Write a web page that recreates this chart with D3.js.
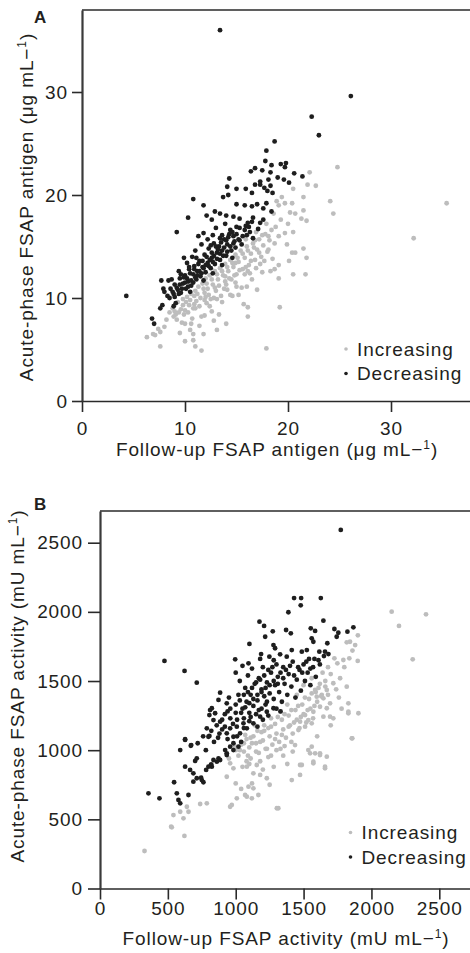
<!DOCTYPE html>
<html>
<head>
<meta charset="utf-8">
<style>
body { margin: 0; background: #fff; }
.chart text { font-family: "Liberation Sans", Arial, sans-serif; fill: #231f20; letter-spacing: 0.9px; }
</style>
</head>
<body>
<svg class="chart" width="470" height="953"></svg>
<script src="https://cdn.jsdelivr.net/npm/d3@7/dist/d3.min.js"></script>
<script>
var width = 470;

// panel A: follow-up vs acute-phase FSAP antigen (ug/mL)
var antigenTicks = [0, 10, 20, 30];
var antigenDecreasing = [
	[13.4,36.0],[26.1,29.6],[22.3,27.6],[23.0,25.8],[18.7,25.2],[17.9,24.3],[17.8,23.3],[18.4,22.9],[19.3,23.0],[19.8,23.1],
	[19.7,22.7],[16.8,22.6],[16.4,22.3],[17.5,22.4],[18.3,22.2],[20.6,22.1],[21.4,21.8],[14.3,21.6],[19.0,21.7],[19.6,21.5],
	[20.1,21.2],[18.1,21.5],[17.3,21.3],[16.8,21.0],[17.3,21.0],[17.7,20.7],[18.3,20.9],[15.0,20.6],[15.9,20.6],[14.1,20.8],
	[16.5,20.2],[18.0,20.4],[18.5,20.2],[10.8,19.6],[13.7,19.8],[14.2,20.0],[11.8,19.0],[10.3,17.8],[9.2,16.4],[4.3,10.2],
	[6.8,8.0],[7.0,7.5],[7.7,11.7],[8.4,11.7],[7.9,10.9],[8.0,10.6],[7.6,9.0],[7.8,9.3],[8.9,9.2],[9.1,9.5],
	[12.9,18.4],[13.4,18.2],[14.0,18.0],[14.7,17.9],[15.3,17.7],[12.1,18.0],[12.6,17.6],[15.0,19.1],[15.8,19.0],[16.5,18.9],
	[17.0,19.1],[17.6,18.7],[17.9,19.2],[18.4,18.4],[16.6,17.8],[17.6,17.6],[17.3,17.3],[16.1,17.3],[16.3,16.4],[15.0,16.9],
	[14.4,16.6],[11.8,16.3],[12.7,16.1],[13.4,15.8],[14.7,16.0],[15.3,15.6],[16.0,16.1],
	[8.3,10.2],[8.6,10.9],[8.9,10.4],[9.0,11.3],[9.3,10.8],[9.5,11.9],[9.6,10.5],[9.8,11.4],[10.0,12.2],[10.1,10.9],
	[10.3,11.6],[10.4,12.8],[10.6,11.2],[10.8,12.3],[10.9,13.1],[11.1,11.8],[11.2,12.6],[11.4,13.6],[11.5,12.1],[11.7,13.0],
	[11.9,14.2],[12.0,12.5],[12.2,13.4],[12.3,14.8],[12.5,12.9],[12.6,13.9],[12.8,15.3],[12.9,13.3],[13.1,14.4],[13.3,15.0],
	[13.4,13.7],[13.6,14.6],[13.8,15.7],[14.0,14.1],[14.1,15.2],[14.3,16.2],[14.5,14.6],[14.7,15.3],[14.9,14.9],[15.2,15.7],
	[15.5,15.2],[15.8,16.6],[9.4,12.6],[10.2,13.4],[10.7,14.0],[11.0,14.6],[11.6,15.2],[12.2,15.7],[8.7,11.8],[9.9,13.9],
	[11.3,16.0],[13.0,16.8],[13.9,17.2],[10.5,10.6],[11.8,11.7],[12.7,12.4],[13.6,13.2],[14.6,13.9],[16.6,15.8],[17.1,16.7],
	[8.5,10.0],[8.8,10.6],[9.0,10.1],[9.2,11.0],[9.4,10.4],[9.5,11.3],[9.7,10.9],[9.9,12.0],[10.0,11.5],[10.2,11.9],
	[10.3,11.1],[10.5,12.4],[10.6,11.7],[10.8,11.5],[10.9,12.8],[11.0,12.0],[11.2,12.2],[11.3,13.3],[11.4,12.6],[11.6,12.4],
	[11.7,13.6],[11.8,12.9],[12.0,13.2],[12.1,14.0],[12.3,13.1],[12.4,13.7],[12.6,14.4],[12.7,13.5],[12.8,14.1],[13.0,15.0],
	[13.1,13.8],[13.2,14.7],[13.4,14.3],[13.5,15.4],[13.7,14.1],[13.8,14.9],[14.0,15.6],[14.1,14.5],[14.2,15.9],[14.4,15.0],
	[14.6,16.4],[14.8,15.5],[15.0,16.2],[15.3,16.8],[15.6,16.0],[15.9,17.0],[16.2,16.9],[16.5,17.4],[9.6,12.3],[10.4,13.0],
	[11.1,13.9],[12.5,15.1],[13.6,16.1]
];
var antigenIncreasing = [
	[24.8,22.7],[22.1,22.2],[22.7,20.9],[21.9,21.0],[24.1,19.4],[24.4,18.2],[21.5,19.8],[20.5,20.6],[21.5,18.5],[21.8,17.5],
	[21.3,17.7],[20.4,19.2],[19.7,19.2],[20.7,18.2],[20.2,18.3],[20.0,17.2],[20.5,16.4],[19.7,16.3],[19.1,16.0],[21.5,14.8],
	[21.8,13.9],[20.4,14.4],[20.7,14.4],[18.7,15.3],[18.1,14.7],[19.1,13.2],[18.3,12.6],[18.7,12.8],[20.5,12.3],[21.7,12.3],
	[19.1,11.9],[16.1,12.6],[17.0,10.8],[16.0,11.1],[16.1,9.1],[19.2,9.1],[16.1,8.2],[19.4,19.8],[19.1,19.0],[18.6,18.2],
	[18.9,19.4],[35.4,19.2],[32.2,15.8],[17.9,5.1],[6.3,6.2],[6.9,6.5],[7.6,6.7],[7.6,5.3],[10.0,5.8],[10.8,5.9],
	[11.0,5.3],[11.6,4.9],[9.5,6.6],[10.8,6.5],[13.1,6.9],[14.0,7.5],[11.8,6.5],[14.4,10.3],[15.0,11.1],[8.9,8.2],
	[8.2,7.9],[10.0,7.5],[10.6,7.5],[11.9,8.3],[12.4,9.2],
	[8.5,8.6],[8.8,9.0],[9.1,8.4],[9.3,9.6],[9.6,8.9],[9.8,9.9],[10.0,8.8],[10.2,10.1],[10.4,9.3],[10.6,10.4],
	[10.8,9.0],[11.0,10.7],[11.1,9.7],[11.3,11.1],[11.5,10.0],[11.7,11.4],[11.9,10.5],[12.0,11.9],[12.2,10.9],[12.4,12.2],
	[12.5,9.9],[12.7,11.3],[12.9,12.6],[13.0,10.7],[13.2,11.8],[13.4,12.9],[13.5,10.2],[13.7,12.2],[13.9,13.3],[14.0,11.3],
	[14.2,12.6],[14.4,13.7],[14.5,11.8],[14.7,13.0],[14.9,14.2],[15.0,12.3],[15.2,13.5],[15.4,14.6],[15.6,12.8],[15.8,13.9],
	[16.0,15.0],[16.2,13.2],[16.4,14.3],[16.6,15.3],[16.8,13.7],[17.0,14.7],[17.2,15.7],[17.4,14.0],[17.6,15.1],[17.8,16.2],
	[18.0,14.5],[18.2,15.6],[18.4,16.6],[17.5,12.5],[16.5,11.8],[15.5,11.0],[14.6,10.2],[13.6,9.6],[12.6,8.7],[11.6,8.2],
	[10.7,8.0],[9.7,7.6],[12.1,9.5],[13.1,9.9],[14.1,10.8],[15.2,10.3],[16.3,12.4],[17.3,13.3],[18.5,13.8],[17.9,17.2],
	[16.9,16.4],[15.9,15.7],[14.9,13.4],[13.9,12.1],[12.9,11.0],[11.9,9.8],[10.9,9.4],[9.9,8.4],[9.2,7.9],[8.0,7.2],
	[7.4,7.0],[7.1,6.4],[11.4,7.3],[12.8,7.8],[15.7,9.4],[18.8,16.9],[19.3,17.6],[19.9,15.2],[20.1,13.6],[10.5,6.9],[13.3,8.4],
	[9.0,8.7],[9.4,8.6],[9.8,9.3],[10.1,9.6],[10.3,8.6],[10.5,9.8],[10.9,10.2],[11.2,10.4],[11.4,9.2],[11.8,10.9],
	[12.1,11.4],[12.3,10.3],[12.6,11.8],[12.8,10.0],[13.1,12.3],[13.3,11.2],[13.6,12.6],[13.8,10.9],[14.1,13.0],[14.3,11.9],
	[14.6,13.4],[14.8,12.2],[15.1,13.9],[15.3,12.7],[15.6,14.3],[15.9,13.0],[16.1,14.6],[16.4,13.6],[16.7,14.9],[16.9,12.9],
	[17.2,14.4],[17.5,16.1],[17.7,13.6],[18.1,16.0],[12.0,10.1],[11.0,9.0],[13.9,11.6],[14.9,11.5],[15.8,12.3],[16.8,15.6]
];

// panel B: follow-up vs acute-phase FSAP activity (mU/mL)
var activityTicks = [0, 500, 1000, 1500, 2000, 2500];
var activityDecreasing = [
	[1774,2592],[1430,2100],[1482,2100],[1627,2100],[1479,2047],[1388,1997],[1175,1929],[1209,1898],[1646,1936],[1371,1869],
	[1406,1845],[1217,1820],[1273,1859],[1553,1881],[1585,1862],[1727,1876],[1756,1849],[1823,1857],[1867,1888],[1744,1820],
	[1101,1768],[1278,1760],[1290,1737],[1560,1809],[1572,1784],[1675,1773],[1616,1712],[1658,1712],[1683,1695],[1413,1724],
	[1487,1712],[1524,1724],[1187,1695],[1248,1676],[1327,1693],[1376,1676],[996,1657],[1094,1628],[475,1645],[623,1573],
	[713,1488],[885,1416],[873,1363],[934,1339],[811,1290],[806,1254],[836,1218],[885,1206],[787,1158],[806,1103],
	[627,1074],[669,1032],[591,1001],[627,881],[664,857],[688,833],[546,768],[688,772],[713,797],[750,784],
	[782,857],[824,881],[836,929],[357,688],[438,652],[566,688],[578,640],[591,616],[652,676],[885,929],
	[934,977],[983,1001],[1020,1025],[983,1097],[1032,1122],[1082,1158],[1130,1194],[1180,1242],[1229,1278],[1278,1303],
	[627,1079],[672,1037],[701,922],[713,941],[745,801],[762,768],[799,881],[819,898],[861,917],[873,941],
	[799,1097],[922,1001],[934,965],[959,1025],[983,1050],[824,1303],[848,1267],[934,1122],[959,1158],[1008,1170],[1057,1194],
	[1000,1560],[1030,1500],[1050,1610],[1070,1450],[1090,1540],[1110,1400],[1120,1590],[1140,1480],[1160,1360],[1170,1520],
	[1190,1440],[1200,1600],[1220,1330],[1230,1490],[1250,1410],[1260,1560],[1280,1370],[1290,1470],[1310,1530],[1320,1420],
	[1340,1350],[1350,1600],[1360,1480],[1380,1400],[1390,1550],[1410,1460],[1420,1640],[1440,1380],[1450,1510],[1470,1580],
	[1480,1430],[1500,1620],[1510,1500],[1530,1560],[1550,1470],[1570,1600],[1590,1530],[1610,1650],[1050,1300],[1080,1350],
	[1100,1270],[1130,1320],[1150,1260],[1190,1300],[1210,1390],[1240,1250],[1000,1270],[960,1230],[920,1260],[1020,1400],
	[950,1380],[1060,1230],[1300,1300],[1330,1280],[1100,1210],[1160,1170],[1200,1220],[900,1150],[940,1080],[1010,1100],
	[870,1090],[1040,1060],[1280,1650],[1180,1660],[1540,1660],
	[720,1050],[760,1100],[780,1000],[820,1140],[840,1060],[860,1180],[880,1120],[900,1220],[920,1170],[940,1280],
	[960,1300],[980,1190],[1000,1330],[1010,1220],[1030,1360],[1040,1270],[1060,1400],[1070,1310],[1090,1420],[1100,1340],
	[1120,1450],[1130,1370],[1150,1490],[1160,1400],[1180,1510],[1190,1420],[1210,1540],[1220,1450],[1240,1580],[1250,1470],
	[1270,1600],[1280,1500],[1300,1620],[1310,1480],[1330,1560],[1350,1520],[1370,1580],[1400,1610],[1430,1540],[1460,1600],
	[1490,1560],[1520,1640],[1550,1590],[1580,1660],[1620,1620],[1650,1680],[1060,1160],[1110,1240],[1170,1290],[1230,1350]
];
var activityIncreasing = [
	[2149,2001],[2402,1982],[2203,1898],[2304,1657],[1842,1784],[1818,1780],[1727,1664],[1749,1628],[1837,1664],[1899,1645],
	[1793,1652],[1818,1459],[1830,1339],[1830,1267],[1855,1086],[1695,1242],[1719,1230],[1769,1520],[1719,1484],[1671,1435],
	[1634,1399],[1585,1435],[1597,1387],[1646,1375],[1621,1314],[1695,1339],[1671,1303],[1572,1278],[1511,1254],[1535,1218],
	[1474,1206],[1560,1194],[1646,1242],[1511,1170],[1462,1146],[1437,1037],[1560,1025],[1548,977],[1585,977],[1621,977],
	[1671,953],[1474,893],[1572,905],[1658,881],[1314,580],[1082,664],[1119,652],[959,591],[1008,652],[787,616],
	[738,611],[640,591],[591,555],[541,531],[524,447],[1413,784],[1474,821],[1487,893],[1572,917],[1621,965],
	[1658,869],[1535,1001],[1859,1086],[1830,1278],[1904,1267],[1229,797],[1180,821],[1130,833],[1155,893],[1082,881],
	[983,869],[959,905],[934,808],[328,271],[529,442],[622,380],[615,507],[652,555],[971,604],[1069,676],
	[1094,736],[1130,724],[1167,676],[1303,580],
	[1000,1000],[1020,960],[1040,1040],[1060,990],[1080,1080],[1100,1020],[1110,940],[1130,1100],[1150,1050],[1170,980],
	[1190,1130],[1200,1070],[1220,1010],[1240,1160],[1250,1100],[1270,1040],[1290,1190],[1300,1120],[1320,1060],[1340,1220],
	[1350,1150],[1370,1090],[1390,1250],[1400,1180],[1420,1120],[1440,1290],[1450,1220],[1470,1160],[1490,1330],[1500,1260],
	[1520,1200],[1540,1370],[1550,1300],[1570,1230],[1590,1420],[1600,1350],[1620,1480],[1640,1560],[1660,1500],[1680,1600],
	[1700,1550],[1560,1520],[1500,1470],[1450,1400],[1380,1330],[1330,1280],[1260,1230],[1210,1180],[1160,1140],[1110,1090],
	[1060,1050],[1180,920],[1240,950],[1300,1000],[1360,1030],[1410,1060],[1280,880],[1350,960],[1200,860],[1100,900],
	[1050,880],[1000,760],[1040,720],[1120,760],[1250,750],[1380,900],[1420,990],[1600,1100],[1700,1180],[1760,1380],
	[1780,1300],[1740,1440],[1800,1600],[1860,1720],[1900,1830],[1880,1760],
	[950,940],[990,1030],[1030,1000],[1070,1110],[1090,960],[1120,1050],[1140,1180],[1180,1060],[1210,1140],[1230,1010],
	[1260,1170],[1290,1080],[1310,1240],[1340,1110],[1360,1260],[1390,1170],[1410,1290],[1430,1200],[1460,1320],[1480,1240],
	[1510,1380],[1530,1290],[1560,1410],[1580,1320],[1610,1450],[1630,1390],[1660,1460],[1680,1400],[1260,960],[1330,1010],
	[1150,990],[1080,920]
];

var groupLabels = ["Increasing", "Decreasing"];
var groupColors = ["#bdbdbd", "#1e1e1e"];

var chart = d3.select(".chart");

drawPanel({
	letter: "A", letterY: 23,
	inc: antigenIncreasing, dec: antigenDecreasing, ticks: antigenTicks, refVal: 30,
	left: 82, refX: 391, bottom: 401, refY: 92, top: 10,
	xTick: 11, xPad: 10, yTick: 10, yPad: 4,
	xTitle: "Follow-up FSAP antigen (μg mL", yTitle: "Acute-phase FSAP antigen (μg mL",
	xTitleY: 456, yTitleX: 33, yTitleY: 207,
	legendX: 346, legendY: 349
});

drawPanel({
	letter: "B", letterY: 510,
	inc: activityIncreasing, dec: activityDecreasing, ticks: activityTicks, refVal: 2500,
	left: 100, refX: 439.3, bottom: 888.5, refY: 542.7, top: 511,
	xTick: 11, xPad: 2, yTick: 12, yPad: 5,
	xTitle: "Follow-up FSAP activity (mU mL", yTitle: "Acute-phase FSAP activity (mU mL",
	xTitleY: 945, yTitleX: 24, yTitleY: 686,
	legendX: 350.5, legendY: 832.5
});

function drawPanel(p) {
	var x = d3.scaleLinear().domain([0, p.refVal]).range([p.left, p.refX]);
	x.domain([0, x.invert(width)]).range([p.left, width]);
	var y = d3.scaleLinear().domain([0, p.refVal]).range([p.bottom, p.refY]);
	y.domain([0, y.invert(p.top)]).range([p.bottom, p.top]);

	var g = chart.append("g");

	// grey (increasing) first, black (decreasing) drawn over it
	[p.inc, p.dec].forEach(function(set, i) {
		g.append("g").selectAll("circle")
			.data(set)
		  .enter().append("circle")
			.attr("cx", function(d) { return x(d[0]); })
			.attr("cy", function(d) { return y(d[1]); })
			.attr("r", 2.4)
			.attr("fill", groupColors[i]);
	});

	var xAxis = g.append("g")
		.attr("transform", "translate(0," + p.bottom + ")")
		.call(d3.axisBottom(x).tickValues(p.ticks).tickFormat(d3.format("d"))
			.tickSize(p.xTick).tickSizeOuter(0).tickPadding(p.xPad));
	var yAxis = g.append("g")
		.attr("transform", "translate(" + p.left + ",0)")
		.call(d3.axisLeft(y).tickValues(p.ticks).tickFormat(d3.format("d"))
			.tickSize(p.yTick).tickSizeOuter(0).tickPadding(p.yPad));

	[xAxis, yAxis].forEach(function(a) {
		a.attr("font-size", 19).attr("font-family", null);
		a.selectAll("line").attr("stroke", "#2a2a2a").attr("stroke-width", 1.6);
		a.select(".domain").attr("stroke", "#2a2a2a").attr("stroke-width", 1.6);
	});
	yAxis.select(".domain").attr("stroke", "#3a3a3a").attr("stroke-width", 2.2);

	// top frame line
	g.append("line")
		.attr("x1", p.left).attr("x2", width)
		.attr("y1", p.top).attr("y2", p.top)
		.attr("stroke", "#2a2a2a")
		.attr("stroke-width", 1.5);

	g.append("text")
		.attr("x", 34)
		.attr("y", p.letterY)
		.attr("font-size", 17)
		.attr("font-weight", "bold")
		.style("letter-spacing", "0px")
		.text(p.letter);

	unitTitle(g.append("text")
		.attr("x", (p.left + width) / 2 + 1)
		.attr("y", p.xTitleY), p.xTitle);

	unitTitle(g.append("text")
		.attr("transform", "translate(" + p.yTitleX + "," + p.yTitleY + ") rotate(-90)"), p.yTitle);

	var legend = g.selectAll(".legend")
		.data(groupLabels)
	  .enter().append("g")
		.attr("transform", function(d, i) { return "translate(" + p.legendX + "," + (p.legendY + i * 24.5) + ")"; });

	legend.append("circle")
		.attr("r", 1.8)
		.attr("fill", function(d, i) { return groupColors[i]; });

	legend.append("text")
		.attr("x", 11)
		.attr("dy", "0.36em")
		.attr("font-size", 19)
		.text(function(d) { return d; });
}

function unitTitle(t, label) {
	t.attr("font-size", 19).attr("text-anchor", "middle");
	t.append("tspan").text(label + "−");
	t.append("tspan").attr("font-size", 12).attr("dy", -7).text("1");
	t.append("tspan").attr("dy", 7).text(")");
}
</script>
</body>
</html>
